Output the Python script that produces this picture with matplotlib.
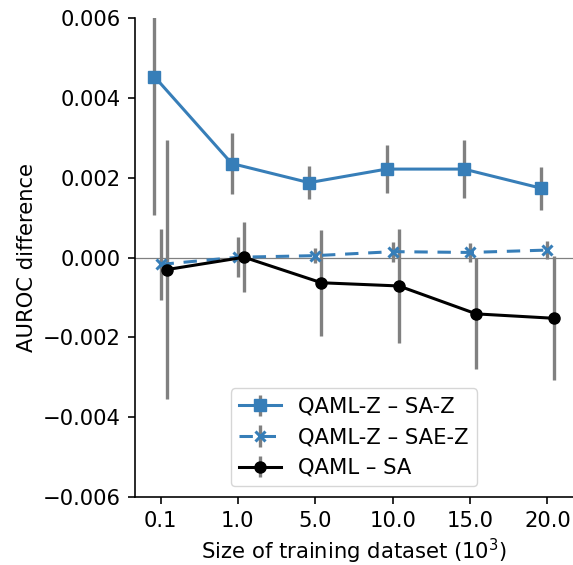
import matplotlib
matplotlib.use("Agg")
import matplotlib.pyplot as plt
import numpy as np

S = 1.46
plt.rcParams.update({
    "font.family": ["DejaVu Sans"],
    "font.size": 15.2,
    "axes.linewidth": 0.8 * S,
    "xtick.major.width": 0.8 * S,
    "ytick.major.width": 0.8 * S,
    "xtick.major.size": 3.5 * S,
    "ytick.major.size": 3.5 * S,
    "xtick.major.pad": 3.5 * S,
    "ytick.major.pad": 3.5 * S,
    "lines.linewidth": 1.5 * S,
    "lines.markersize": 8.0,
})

sizes = ["0.1", "1.0", "5.0", "10.0", "15.0", "20.0"]

saz_mean = [0.00454, 0.00236, 0.00188, 0.00222, 0.00222, 0.00174]
saz_err = [0.00348, 0.00076, 0.00042, 0.00060, 0.00072, 0.00054]

saez_mean = [-0.00017, 0.00001, 0.00005, 0.00015, 0.00013, 0.00019]
saez_err = [0.00088, 0.00050, 0.00019, 0.00025, 0.00023, 0.00022]

sa_mean = [-0.00030, 0.00001, -0.00063, -0.00071, -0.00141, -0.00152]
sa_err = [0.00325, 0.00088, 0.00133, 0.00143, 0.00139, 0.00156]

blue = "#377eb8"
gray = "#808080"

fig = plt.figure(figsize=(5.73, 5.65), dpi=100)
ax = fig.add_axes([0.2356, 0.1204, 0.7644, 0.8472])

x = np.arange(len(sizes))
ax.axhline(0, color=gray, lw=0.9, zorder=0.5)

ax.errorbar(x - 0.08, saz_mean, yerr=saz_err, color=blue, marker="s",
            ecolor=gray, elinewidth=2.4, capsize=0, label="QAML-Z – SA-Z")
ax.errorbar(x, saez_mean, yerr=saez_err, color=blue, marker="x",
            ls=(0, (4.4, 3.2)), mew=1.5 * S, ms=6.5, ecolor=gray,
            elinewidth=2.4, capsize=0, label="QAML-Z – SAE-Z")
ax.errorbar(x + 0.08, sa_mean, yerr=sa_err, color="black", marker="o",
            ecolor=gray, elinewidth=2.4, capsize=0, label="QAML – SA")

ax.set_xticks(x)
ax.set_xticklabels(sizes)
ax.set_xlim(-0.33, 5.33)
ax.set_ylim(-0.006, 0.006)
ax.set_yticks([-0.006, -0.004, -0.002, 0.0, 0.002, 0.004, 0.006])
ax.set_yticklabels(["\u22120.006", "\u22120.004", "\u22120.002", "0.000",
                    "0.002", "0.004", "0.006"])
ax.spines["top"].set_visible(False)
ax.spines["right"].set_visible(False)
ax.set_xlabel("Size of training dataset ($10^3$)")
ax.set_ylabel("AUROC difference")
ax.legend(loc="lower center")

fig.savefig("out.png", dpi=100)
